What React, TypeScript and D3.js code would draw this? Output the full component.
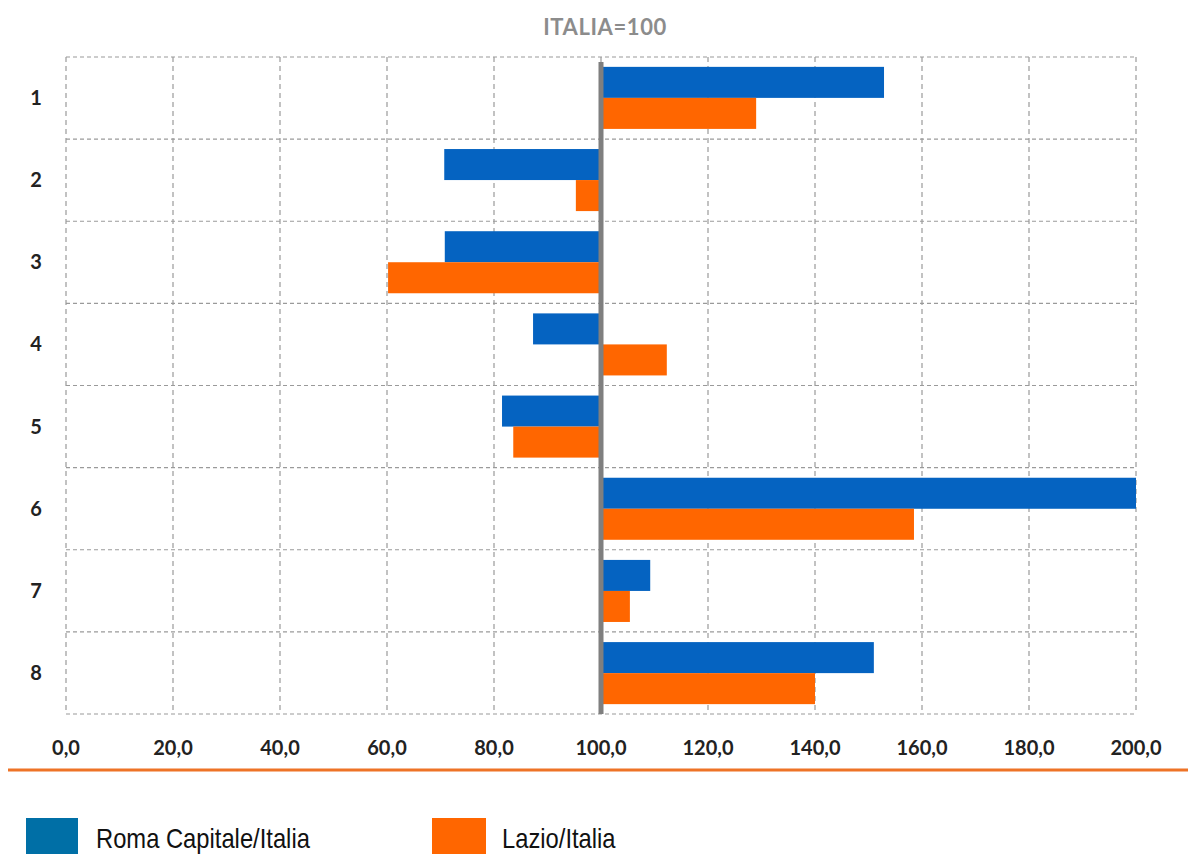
import React from "react";
import * as d3 from "d3";

const categories = ["1", "2", "3", "4", "5", "6", "7", "8"];
const romaValues = [152.9, 70.7, 70.8, 87.3, 81.5, 200.0, 109.2, 151.0];
const lazioValues = [129.0, 95.3, 60.2, 112.3, 83.6, 158.5, 105.4, 140.0];
const xTicks = [0, 20, 40, 60, 80, 100, 120, 140, 160, 180, 200];
const seriesNames = ["Roma Capitale/Italia", "Lazio/Italia"];
const baselineValue = 100;
const title = "ITALIA=100";

const W = 1188;
const H = 854;
const BLUE = "#0563C1";
const ORANGE = "#FF6600";
const LEG_BLUE = "#006FA6";
const FONT = "'Liberation Sans', Arial, sans-serif";
const BOLDFONT = "Lato, 'Open Sans', sans-serif";

export default function App() {
  const x = d3.scaleLinear().domain([0, 200]).range([66, 1136]);
  const y = d3.scaleBand<string>().domain(categories).range([57, 714]).paddingInner(0.245).paddingOuter(0.12);
  const band = d3.scaleBand<string>().domain(categories).range([57, 714]);
  const bh = y.bandwidth() / 2;
  const fmt = (v: number) => v.toFixed(1).replace(".", ",");

  return (
    <svg width={W} height={H} style={{ position: "absolute", left: 0, top: 0, background: "#fff" }}>
      <text x={605} y={35} textAnchor="middle" fontFamily={BOLDFONT} fontWeight="bold" fontSize={22} letterSpacing={0.6} fill="#8c8c8c">
        {title}
      </text>
      {/* vertical gridlines */}
      {xTicks.map((t) => (
        <line key={"v" + t} x1={x(t)} x2={x(t)} y1={57} y2={714} stroke="#9a9a9a" strokeWidth={1.2} strokeDasharray="5,4" />
      ))}
      {/* horizontal gridlines */}
      {categories.map((c) => (
        <line key={"h" + c} x1={66} x2={1136} y1={band(c)!} y2={band(c)!} stroke="#9a9a9a" strokeWidth={1.2} strokeDasharray="4,3" />
      ))}
      <line x1={66} x2={1136} y1={714} y2={714} stroke="#9a9a9a" strokeWidth={1.2} strokeDasharray="4,3" />
      {/* bars */}
      {categories.map((c, i) => {
        const y0 = y(c)!;
        const r = romaValues[i];
        const l = lazioValues[i];
        return (
          <g key={"b" + c}>
            <rect x={Math.min(x(r), x(baselineValue))} y={y0} width={Math.abs(x(r) - x(baselineValue))} height={bh} fill={BLUE} />
            <rect x={Math.min(x(l), x(baselineValue))} y={y0 + bh} width={Math.abs(x(l) - x(baselineValue))} height={bh} fill={ORANGE} />
          </g>
        );
      })}
      {/* baseline */}
      <line x1={x(baselineValue)} x2={x(baselineValue)} y1={62} y2={714} stroke="#7f7f7f" strokeWidth={5} />
      {/* category labels */}
      {categories.map((c) => (
        <text key={"l" + c} x={36} y={band(c)! + band.bandwidth() / 2 + 7} textAnchor="middle" fontFamily={BOLDFONT} fontWeight="bold" fontSize={20} fill="#222">
          {c}
        </text>
      ))}
      {/* x tick labels */}
      {xTicks.map((t) => (
        <text key={"t" + t} x={x(t)} y={755} textAnchor="middle" fontFamily={BOLDFONT} fontWeight="bold" fontSize={20} fill="#222">
          {fmt(t)}
        </text>
      ))}
      {/* orange separator */}
      <line x1={8} x2={1188} y1={770} y2={770} stroke="#EE7326" strokeWidth={3} />
      {/* legend */}
      <rect x={26} y={818} width={52} height={40} fill={LEG_BLUE} />
      <g transform="translate(96,848) scale(0.88,1)">
        <text x={0} y={0} fontFamily={FONT} fontSize={27} fill="#111">{seriesNames[0]}</text>
      </g>
      <rect x={432} y={818} width={54} height={40} fill={ORANGE} />
      <g transform="translate(502,848) scale(0.88,1)">
        <text x={0} y={0} fontFamily={FONT} fontSize={27} fill="#111">{seriesNames[1]}</text>
      </g>
    </svg>
  );
}
